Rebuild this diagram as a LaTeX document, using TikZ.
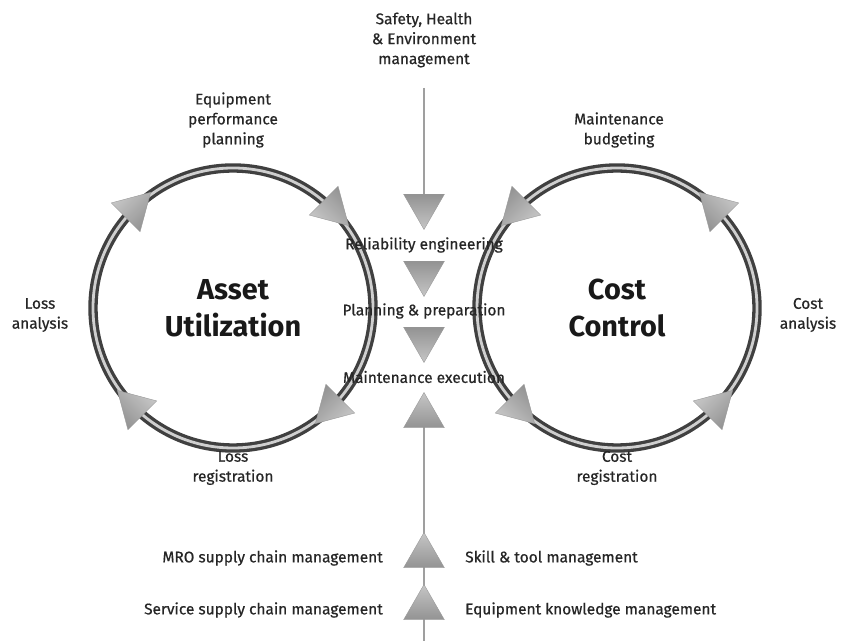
\documentclass[tikz,border=0pt]{standalone}
\usepackage{fontspec}
\setmainfont{Fira Sans}
\newfontfamily\lblfont{Fira Sans}[FakeBold=0.6]
\usetikzlibrary{shapes.geometric,backgrounds}
\begin{document}
\begin{tikzpicture}[x=1bp,y=1bp,
  ring/.style={circle, minimum size=280bp, inner sep=0pt, outer sep=0pt,
    draw=black!75, line width=3.3bp, double=gray!38, double distance=2.8bp,
    font=\fontsize{29}{37}\selectfont\bfseries, text=black!90, align=center},
  tri/.style={regular polygon, regular polygon sides=3, minimum size=47bp,
    inner sep=0pt, outer sep=0pt, rotate=#1-90,
    top color=gray!45, bottom color=gray!85, shading angle={90-#1},
    draw=gray!80, line width=0.4bp},
  lbl/.style={font=\lblfont\fontsize{15.5}{20}\selectfont, text=black!85, align=center, inner sep=0pt},
  vline/.style={draw=gray!75, line width=2.8bp}]
\useasboundingbox (0,0) rectangle (841,641);

% the two cycles
\node[ring] (au) at (233,333) {Asset\\Utilization};
\node[ring] (cc) at (617,333) {Cost\\Control};

% direction marks on the cycles (left clockwise, right anticlockwise)
\node[tri=45]  (au1) at (au.135) {};
\node[tri=-45] (au2) at (au.45) {};
\node[tri=225] (au3) at (au.315) {};
\node[tri=135] (au4) at (au.225) {};
\node[tri=225] (cc1) at (cc.135) {};
\node[tri=135] (cc2) at (cc.45) {};
\node[tri=45]  (cc3) at (cc.315) {};
\node[tri=315] (cc4) at (cc.225) {};

% central chain
\node[tri=-90] (t1) at (424,435) {};
\node[tri=-90] (t2) at (424,368) {};
\node[tri=-90] (t3) at (424,302) {};
\node[tri=90]  (t4) at (424,225) {};
\node[tri=90]  (t5) at (424,85) {};
\node[tri=90]  (t6) at (424,33) {};

\coordinate (top) at (424,553);
\coordinate (bot) at (424,0);
\begin{scope}[on background layer]
  \draw[vline] (top) -- (t1.center);
  \draw[vline] (t4.center) -- (bot);
\end{scope}

% labels
\node[lbl] (saf) at (424,601) {Safety, Health\\\& Environment\\management};
\node[lbl] (epp) at (233,521) {Equipment\\performance\\planning};
\node[lbl] (mb)  at (619,511) {Maintenance\\budgeting};
\node[lbl] (la)  at (40,326)  {Loss\\analysis};
\node[lbl] (ca)  at (808,326) {Cost\\analysis};
\node[lbl] (lr)  at (233,173) {Loss\\registration};
\node[lbl] (cr)  at (617,173) {Cost\\registration};
\node[lbl] (re)  at (424,396) {Reliability engineering};
\node[lbl] (pp)  at (424,330) {Planning \& preparation};
\node[lbl] (me)  at (424,264) {Maintenance execution};
\node[lbl, anchor=east] (mro) at (383,83) {MRO supply chain management};
\node[lbl, anchor=west] (stm) at (465,83) {Skill \& tool management};
\node[lbl, anchor=east] (ssc) at (383,31) {Service supply chain management};
\node[lbl, anchor=west] (ekm) at (465,31) {Equipment knowledge management};
\end{tikzpicture}
\end{document}
